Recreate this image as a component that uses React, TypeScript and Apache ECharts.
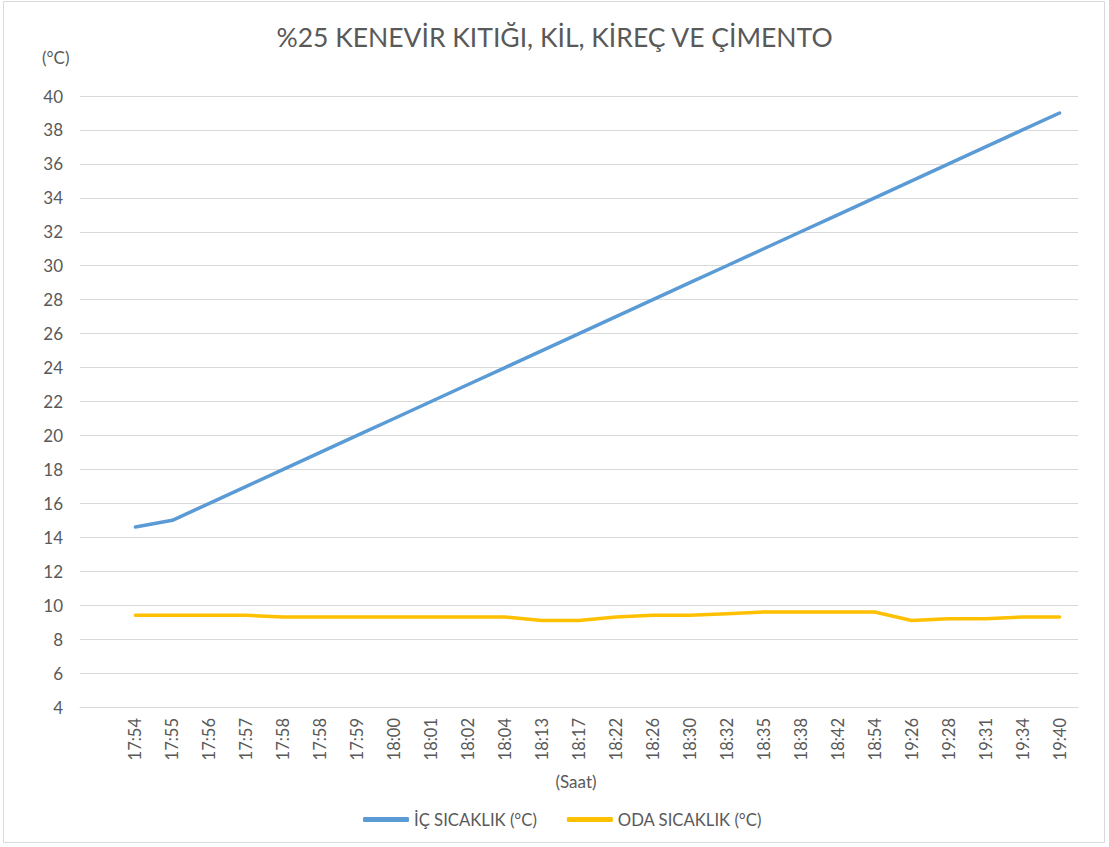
import React, { useEffect, useRef } from "react";
import * as echarts from "echarts";

const titleText = "%25 KENEVİR KITIĞI, KİL, KİREÇ VE ÇİMENTO";
const yUnitLabel = "(°C)";
const xUnitLabel = "(Saat)";
const seriesNames = ["İÇ SICAKLIK (°C)", "ODA SICAKLIK (°C)"];

const categories = [
  "17:54", "17:55", "17:56", "17:57", "17:58", "17:58", "17:59", "18:00", "18:01",
  "18:02", "18:04", "18:13", "18:17", "18:22", "18:26", "18:30", "18:32", "18:35",
  "18:38", "18:42", "18:54", "19:26", "19:28", "19:31", "19:34", "19:40",
];

const icSicaklik = [
  14.6, 15, 16, 17, 18, 19, 20, 21, 22, 23, 24, 25, 26, 27, 28, 29, 30, 31, 32, 33,
  34, 35, 36, 37, 38, 39,
];

const odaSicaklik = [
  9.4, 9.4, 9.4, 9.4, 9.3, 9.3, 9.3, 9.3, 9.3, 9.3, 9.3, 9.1, 9.1, 9.3, 9.4, 9.4,
  9.5, 9.6, 9.6, 9.6, 9.6, 9.1, 9.2, 9.2, 9.3, 9.3,
];

const yMin = 4;
const yMax = 40;
const yStep = 2;

const textColor = "#595959";
const gridColor = "#D9D9D9";
const font = "Lato, 'Open Sans', sans-serif";

export default function App() {
  const ref = useRef<HTMLDivElement>(null);

  useEffect(() => {
    const chart = echarts.init(ref.current!, null, { renderer: "svg" });
    chart.setOption({
      animation: false,
      backgroundColor: "#ffffff",
      title: {
        text: titleText,
        left: "center",
        top: 18,
        textStyle: {
          fontFamily: font,
          fontSize: 26.5,
          fontWeight: "normal",
          color: textColor,
        },
      },
      legend: {
        data: seriesNames,
        left: 358,
        top: 806,
        itemWidth: 46,
        itemHeight: 5,
        itemGap: 30,
        icon: "roundRect",
        textStyle: { fontFamily: font, fontSize: 16.7, color: textColor },
      },
      grid: { left: 80, right: 31, top: 96, bottom: 140, containLabel: false },
      xAxis: {
        type: "category",
        data: ["", ...categories],
        boundaryGap: true,
        axisLine: { show: true, lineStyle: { color: gridColor, width: 1 } },
        axisTick: { show: false },
        axisLabel: {
          interval: 0,
          rotate: 90,
          margin: 11,
          fontFamily: font,
          fontSize: 16.5,
          color: textColor,
        },
        splitLine: { show: false },
      },
      yAxis: {
        type: "value",
        min: yMin,
        max: yMax,
        interval: yStep,
        axisLine: { show: false },
        axisTick: { show: false },
        axisLabel: {
          margin: 17,
          fontFamily: font,
          fontSize: 17,
          color: textColor,
        },
        splitLine: { lineStyle: { color: gridColor, width: 1 } },
      },
      series: [
        {
          name: seriesNames[0],
          type: "line",
          data: [null, ...icSicaklik],
          symbol: "none",
          lineStyle: { color: "#5B9BD5", width: 3.5, cap: "round" },
          itemStyle: { color: "#5B9BD5" },
        },
        {
          name: seriesNames[1],
          type: "line",
          data: [null, ...odaSicaklik],
          symbol: "none",
          lineStyle: { color: "#FFC000", width: 3.5, cap: "round" },
          itemStyle: { color: "#FFC000" },
        },
      ],
      graphic: [
        {
          type: "rect",
          shape: { x: 3.5, y: 1.5, width: 1101, height: 841 },
          style: { fill: "none", stroke: gridColor, lineWidth: 1 },
          silent: true,
        },
        {
          type: "text",
          x: 42,
          y: 57,
          style: {
            text: yUnitLabel,
            fontFamily: font,
            fontSize: 17,
            fill: textColor,
            textVerticalAlign: "middle",
          },
        },
        {
          type: "text",
          x: 576,
          y: 781,
          style: {
            text: xUnitLabel,
            fontFamily: font,
            fontSize: 17,
            fill: textColor,
            textAlign: "center",
            textVerticalAlign: "middle",
          },
        },
      ],
    });
    return () => chart.dispose();
  }, []);

  return (
    <div
      ref={ref}
      style={{ position: "absolute", left: 0, top: 0, width: 1109, height: 847, background: "#fff" }}
    />
  );
}
